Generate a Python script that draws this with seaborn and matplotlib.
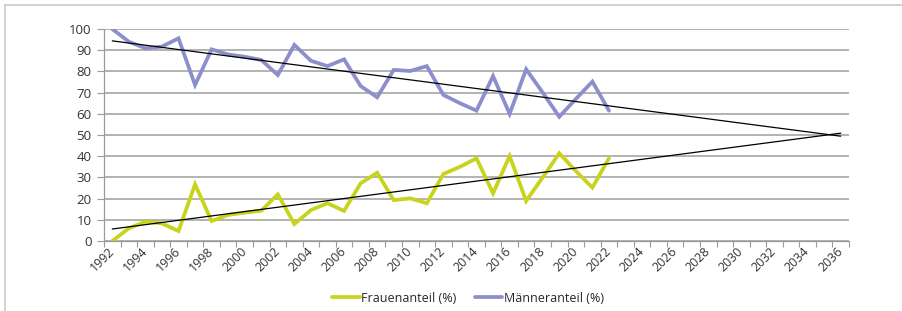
import numpy as np
import pandas as pd
import matplotlib
matplotlib.use("Agg")
import matplotlib.pyplot as plt
from matplotlib.lines import Line2D
import seaborn as sns

# ---- data ----
axis_years = list(range(1992, 2037))
data_years = list(range(1992, 2023))
frauen = [0, 6, 9.1, 8.3, 4.7, 26.7, 9.4, 12.3, 13.4, 14.3, 22, 8, 14.6, 17.8, 14.2,
          27.2, 32.2, 19.3, 20.1, 17.8, 31.6, 35, 39, 22.5, 40.1, 18.9, 30, 41.4, 33, 25.2, 39]
maenner = [100, 94, 90.9, 91.7, 95.6, 73.6, 90.4, 88, 86.9, 85.4, 78.3, 92.5, 85, 82.5, 85.7,
           73.1, 67.8, 80.7, 80.2, 82.5, 68.9, 65, 61.5, 77.8, 60, 81, 70, 58.6, 67, 75.2, 61.5]
series_names = ["Frauenanteil (%)", "Männeranteil (%)"]
colors = ["#C8D41C", "#8C8FCB"]

sns.set_theme(style="white")
plt.rcParams["font.family"] = ["Open Sans", "DejaVu Sans"]

fig = plt.figure(figsize=(9.02, 3.11), dpi=100)
ax = fig.add_axes([104 / 902, 1 - 241 / 311, (849 - 104) / 902, (241 - 29) / 311])

idx = [y - axis_years[0] for y in data_years]
df = pd.DataFrame({
    "x": idx * 2,
    "wert": frauen + maenner,
    "serie": [series_names[0]] * len(frauen) + [series_names[1]] * len(maenner),
})

sns.lineplot(data=df, x="x", y="wert", hue="serie", palette=dict(zip(series_names, colors)),
             linewidth=2.7, ax=ax, legend=True, solid_joinstyle="miter")

# linear trend lines extended to 2036
xall = np.arange(len(axis_years))
for vals in (frauen, maenner):
    k, d = np.polyfit(idx, vals, 1)
    sns.lineplot(x=xall, y=k * xall + d, color="black", linewidth=0.9, ax=ax, legend=False)

ax.set_xlim(-0.5, len(axis_years) - 0.5)
ax.set_ylim(0, 100)
ax.set_yticks(range(0, 101, 10))
ax.set_xticks(xall[::2])
ax.set_xticklabels([str(y) for y in axis_years[::2]], rotation=45, ha="right",
                   va="center", rotation_mode="anchor")
ax.set_xticks(np.arange(-0.5, len(axis_years), 1), minor=True)
ax.tick_params(axis="x", which="major", length=0, pad=6, labelsize=9, labelcolor="#333333")
ax.tick_params(axis="x", which="minor", length=4, width=0.8, color="#9a9a9a", direction="out", bottom=True)
ax.tick_params(axis="y", length=5, width=0.8, color="#9a9a9a", direction="out", left=True,
               pad=4, labelsize=9.5, labelcolor="#333333")

ax.grid(axis="y", color="#a6a6a6", linewidth=1.2)
ax.set_axisbelow(True)
for s in ("top", "right"):
    ax.spines[s].set_visible(False)
for s in ("left", "bottom"):
    ax.spines[s].set_color("#9a9a9a")
    ax.spines[s].set_linewidth(0.9)
ax.set_xlabel("")
ax.set_ylabel("")

handles, labels = ax.get_legend_handles_labels()
ax.legend(handles[:2], labels[:2], loc="center", bbox_to_anchor=(468 / 902, 1 - 298 / 311),
          bbox_transform=fig.transFigure, ncol=2, frameon=False, fontsize=9,
          handlelength=2.2, handletextpad=0.1, columnspacing=1.5)

# outer frame (top and left edges)
fig.add_artist(Line2D([5 / 902, 1], [1 - 5 / 311] * 2, transform=fig.transFigure,
                      color="#cfcaca", linewidth=1.2))
fig.add_artist(Line2D([5 / 902] * 2, [0, 1 - 5 / 311], transform=fig.transFigure,
                      color="#cfcaca", linewidth=1.2))

fig.savefig("out.png", dpi=100)
